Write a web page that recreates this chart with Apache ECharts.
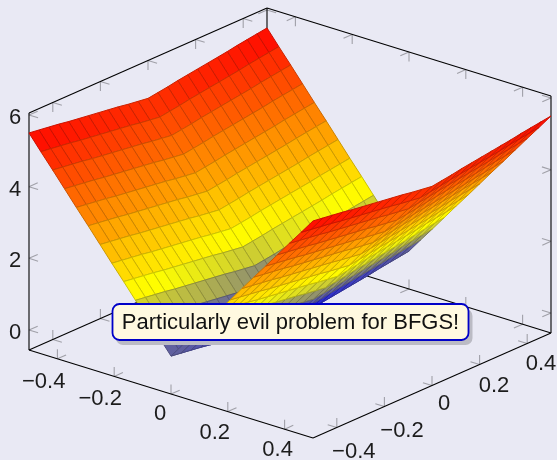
<!DOCTYPE html>
<html><head><meta charset="utf-8">
<style>html,body{margin:0;padding:0;background:#e9e9f4}#c{width:557px;height:460px}</style>
<script src="https://cdn.jsdelivr.net/npm/echarts@6/dist/echarts.min.js"></script>
</head><body><div id="c"></div>
<script>
const xSamples = [-0.5,-0.4583,-0.4167,-0.375,-0.3333,-0.2917,-0.25,-0.2083,-0.1667,-0.125,-0.0833,-0.0417,0,0.0417,0.0833,0.125,0.1667,0.2083,0.25,0.2917,0.3333,0.375,0.4167,0.4583,0.5];
const ySamples = [-0.5,-0.4583,-0.4167,-0.375,-0.3333,-0.2917,-0.25,-0.2083,-0.1667,-0.125,-0.0833,-0.0417,0,0.0417,0.0833,0.125,0.1667,0.2083,0.25,0.2917,0.3333,0.375,0.4167,0.4583,0.5];
const zRows = [
[5.50,5.46,5.42,5.38,5.33,5.29,5.25,5.21,5.17,5.13,5.08,5.04,5.00,5.04,5.08,5.13,5.17,5.21,5.25,5.29,5.33,5.38,5.42,5.46,5.50],
[5.08,5.04,5.00,4.96,4.91,4.87,4.83,4.79,4.75,4.71,4.66,4.62,4.58,4.62,4.66,4.71,4.75,4.79,4.83,4.87,4.91,4.96,5.00,5.04,5.08],
[4.67,4.63,4.59,4.55,4.50,4.46,4.42,4.38,4.34,4.30,4.25,4.21,4.17,4.21,4.25,4.30,4.34,4.38,4.42,4.46,4.50,4.55,4.59,4.63,4.67],
[4.25,4.21,4.17,4.13,4.08,4.04,4.00,3.96,3.92,3.88,3.83,3.79,3.75,3.79,3.83,3.88,3.92,3.96,4.00,4.04,4.08,4.13,4.17,4.21,4.25],
[3.83,3.79,3.75,3.71,3.66,3.62,3.58,3.54,3.50,3.46,3.41,3.37,3.33,3.37,3.41,3.46,3.50,3.54,3.58,3.62,3.66,3.71,3.75,3.79,3.83],
[3.42,3.38,3.34,3.30,3.25,3.21,3.17,3.13,3.09,3.05,3.00,2.96,2.92,2.96,3.00,3.05,3.09,3.13,3.17,3.21,3.25,3.30,3.34,3.38,3.42],
[3.00,2.96,2.92,2.88,2.83,2.79,2.75,2.71,2.67,2.63,2.58,2.54,2.50,2.54,2.58,2.63,2.67,2.71,2.75,2.79,2.83,2.88,2.92,2.96,3.00],
[2.58,2.54,2.50,2.46,2.41,2.37,2.33,2.29,2.25,2.21,2.16,2.12,2.08,2.12,2.16,2.21,2.25,2.29,2.33,2.37,2.41,2.46,2.50,2.54,2.58],
[2.17,2.13,2.09,2.05,2.00,1.96,1.92,1.88,1.84,1.80,1.75,1.71,1.67,1.71,1.75,1.80,1.84,1.88,1.92,1.96,2.00,2.05,2.09,2.13,2.17],
[1.75,1.71,1.67,1.63,1.58,1.54,1.50,1.46,1.42,1.38,1.33,1.29,1.25,1.29,1.33,1.38,1.42,1.46,1.50,1.54,1.58,1.63,1.67,1.71,1.75],
[1.33,1.29,1.25,1.21,1.16,1.12,1.08,1.04,1.00,0.96,0.91,0.87,0.83,0.87,0.91,0.96,1.00,1.04,1.08,1.12,1.16,1.21,1.25,1.29,1.33],
[0.92,0.88,0.84,0.80,0.75,0.71,0.67,0.63,0.59,0.55,0.50,0.46,0.42,0.46,0.50,0.55,0.59,0.63,0.67,0.71,0.75,0.80,0.84,0.88,0.92],
[0.50,0.46,0.42,0.38,0.33,0.29,0.25,0.21,0.17,0.13,0.08,0.04,0.00,0.04,0.08,0.13,0.17,0.21,0.25,0.29,0.33,0.38,0.42,0.46,0.50],
[0.92,0.88,0.84,0.80,0.75,0.71,0.67,0.63,0.59,0.55,0.50,0.46,0.42,0.46,0.50,0.55,0.59,0.63,0.67,0.71,0.75,0.80,0.84,0.88,0.92],
[1.33,1.29,1.25,1.21,1.16,1.12,1.08,1.04,1.00,0.96,0.91,0.87,0.83,0.87,0.91,0.96,1.00,1.04,1.08,1.12,1.16,1.21,1.25,1.29,1.33],
[1.75,1.71,1.67,1.63,1.58,1.54,1.50,1.46,1.42,1.38,1.33,1.29,1.25,1.29,1.33,1.38,1.42,1.46,1.50,1.54,1.58,1.63,1.67,1.71,1.75],
[2.17,2.13,2.09,2.05,2.00,1.96,1.92,1.88,1.84,1.80,1.75,1.71,1.67,1.71,1.75,1.80,1.84,1.88,1.92,1.96,2.00,2.05,2.09,2.13,2.17],
[2.58,2.54,2.50,2.46,2.41,2.37,2.33,2.29,2.25,2.21,2.16,2.12,2.08,2.12,2.16,2.21,2.25,2.29,2.33,2.37,2.41,2.46,2.50,2.54,2.58],
[3.00,2.96,2.92,2.88,2.83,2.79,2.75,2.71,2.67,2.63,2.58,2.54,2.50,2.54,2.58,2.63,2.67,2.71,2.75,2.79,2.83,2.88,2.92,2.96,3.00],
[3.42,3.38,3.34,3.30,3.25,3.21,3.17,3.13,3.09,3.05,3.00,2.96,2.92,2.96,3.00,3.05,3.09,3.13,3.17,3.21,3.25,3.30,3.34,3.38,3.42],
[3.83,3.79,3.75,3.71,3.66,3.62,3.58,3.54,3.50,3.46,3.41,3.37,3.33,3.37,3.41,3.46,3.50,3.54,3.58,3.62,3.66,3.71,3.75,3.79,3.83],
[4.25,4.21,4.17,4.13,4.08,4.04,4.00,3.96,3.92,3.88,3.83,3.79,3.75,3.79,3.83,3.88,3.92,3.96,4.00,4.04,4.08,4.13,4.17,4.21,4.25],
[4.67,4.63,4.59,4.55,4.50,4.46,4.42,4.38,4.34,4.30,4.25,4.21,4.17,4.21,4.25,4.30,4.34,4.38,4.42,4.46,4.50,4.55,4.59,4.63,4.67],
[5.08,5.04,5.00,4.96,4.91,4.87,4.83,4.79,4.75,4.71,4.66,4.62,4.58,4.62,4.66,4.71,4.75,4.79,4.83,4.87,4.91,4.96,5.00,5.04,5.08],
[5.50,5.46,5.42,5.38,5.33,5.29,5.25,5.21,5.17,5.13,5.08,5.04,5.00,5.04,5.08,5.13,5.17,5.21,5.25,5.29,5.33,5.38,5.42,5.46,5.50]
];
const xTicks = [-0.4,-0.2,0,0.2,0.4];
const yTicks = [-0.4,-0.2,0,0.2,0.4];
const zTicks = [0,2,4,6];
const xTickLabels = ['\u22120.4','\u22120.2','0','0.2','0.4'];
const yTickLabels = ['\u22120.4','\u22120.2','0','0.2','0.4'];
const zTickLabels = ['0','2','4','6'];
const noteText = 'Particularly evil problem for BFGS!';

// view of the 3D box (screen units of the hidden 2D axes)
const view = {ox:29, oy:350, xdx:284, xdy:88, ydx:238, ydy:-105, zs:35.83,
  xMin:-0.5, xMax:0.5, yMin:-0.5, yMax:0.5, zMin:-0.558, zMax:6.056};
function proj(x,y,z){
  const u=x-view.xMin, v=y-view.yMin, w=z-view.zMin;
  return [view.ox+u*view.xdx+v*view.ydx, view.oy+u*view.xdy+v*view.ydy-w*view.zs];
}
function unit(a,b){const l=Math.hypot(a,b);return [a/l,b/l];}
const DX=unit(view.xdx,view.xdy), DY=unit(view.ydx,view.ydy), DZ=[0,-1];
const TL=9.5;

// colormap "hot": blue, yellow, orange, red
const cmap=[[0,0,255],[255,255,0],[255,128,0],[255,0,0]];
const zLo=0, zHi=5.5;
function mapped(z){
  let t=Math.max(0,Math.min(1,(z-zLo)/(zHi-zLo)))*3;
  const i=Math.min(2,Math.floor(t)); t-=i;
  return cmap[i].map((c,k)=>c+(cmap[i+1][k]-c)*t);
}
function rgb(c,f){return 'rgb('+c.map(v=>Math.round(v*f)).join(',')+')';}

// cells sorted far to near
const cells=[];
for(let i=0;i<xSamples.length-1;i++){
  for(let j=ySamples.length-2;j>=0;j--){
    const m=(zRows[i][j]+zRows[i+1][j]+zRows[i][j+1]+zRows[i+1][j+1])/4;
    cells.push([i,j,m]);
  }
}

// box frame + ticks
const {xMin,xMax,yMin,yMax,zMin,zMax}=view;
const frame=[
  [[xMin,yMin,zMin],[xMax,yMin,zMin]],[[xMax,yMin,zMin],[xMax,yMax,zMin]],
  [[xMin,yMin,zMin],[xMin,yMax,zMin]],[[xMin,yMax,zMin],[xMax,yMax,zMin]],
  [[xMin,yMax,zMax],[xMax,yMax,zMax]],[[xMin,yMin,zMax],[xMin,yMax,zMax]],
  [[xMin,yMin,zMin],[xMin,yMin,zMax]],[[xMax,yMax,zMin],[xMax,yMax,zMax]],
  [[xMin,yMax,zMin],[xMin,yMax,zMax]]
];
const tickSegs=[];
function tk(p,d,s){tickSegs.push({p,d:[d[0]*s*TL,d[1]*s*TL]});}
xTicks.forEach(x=>{
  tk([x,yMin,zMin],DY,1);tk([x,yMin,zMin],DZ,1);
  tk([x,yMax,zMin],DY,-1);tk([x,yMax,zMin],DZ,1);
  tk([x,yMax,zMax],DY,-1);tk([x,yMax,zMax],DZ,-1);
});
yTicks.forEach(y=>{
  tk([xMax,y,zMin],DX,-1);tk([xMax,y,zMin],DZ,1);
  tk([xMin,y,zMin],DX,1);tk([xMin,y,zMin],DZ,1);
  tk([xMin,y,zMax],DX,1);tk([xMin,y,zMax],DZ,-1);
});
zTicks.forEach(z=>{
  tk([xMin,yMin,z],DX,1);tk([xMin,yMin,z],DY,1);
  tk([xMax,yMax,z],DX,-1);tk([xMax,yMax,z],DY,-1);
  tk([xMin,yMax,z],DX,1);tk([xMin,yMax,z],DY,-1);
});

const FONT='"Liberation Sans"';
const TC='#1c1c1c';
const xLabelOffsets=[[-13.7,22.7],[-14,22.7],[-11,19.7],[-13,21],[-7,21]];
const yLabelOffsets=[[17,24],[17.6,24.5],[12,18.5],[14.4,21.5],[13.8,20.5]];
const labels=[];
xTicks.forEach((x,i)=>{const p=proj(x,yMin,zMin);labels.push([p[0]+xLabelOffsets[i][0],p[1]+xLabelOffsets[i][1],xTickLabels[i]]);});
yTicks.forEach((y,i)=>{const p=proj(xMax,y,zMin);labels.push([p[0]+yLabelOffsets[i][0],p[1]+yLabelOffsets[i][1],yTickLabels[i]]);});
zTicks.forEach((z,i)=>{const p=proj(xMin,yMin,z);labels.push([15,p[1]+3,zTickLabels[i]]);});

const chart=echarts.init(document.getElementById('c'),null,{renderer:'canvas'});
chart.setOption({
  animation:false,
  backgroundColor:'#e9e9f4',
  grid:{left:0,right:0,top:0,bottom:0},
  xAxis:{type:'value',min:0,max:557,show:false},
  yAxis:{type:'value',min:0,max:460,inverse:true,show:false},
  series:[
    {type:'custom',coordinateSystem:'cartesian2d',silent:true,z:1,clip:false,
      data:tickSegs.map((t,i)=>[i,0]),
      encode:{x:0,y:1},
      renderItem(p,api){
        const t=tickSegs[api.value(0)];
        const a=proj(t.p[0],t.p[1],t.p[2]), A=api.coord(a), B=api.coord([a[0]+t.d[0],a[1]+t.d[1]]);
        return {type:'line',shape:{x1:A[0],y1:A[1],x2:B[0],y2:B[1]},style:{stroke:'#a0a0a8',lineWidth:1.1,fill:null}};
      }},
    {type:'custom',coordinateSystem:'cartesian2d',silent:true,z:2,clip:false,
      data:frame.map((t,i)=>[i,0]),
      encode:{x:0,y:1},
      renderItem(p,api){
        const f=frame[api.value(0)];
        const A=api.coord(proj(...f[0])), B=api.coord(proj(...f[1]));
        return {type:'line',shape:{x1:A[0],y1:A[1],x2:B[0],y2:B[1]},style:{stroke:'#000',lineWidth:1.1,fill:null}};
      }},
    {type:'custom',coordinateSystem:'cartesian2d',silent:true,z:3,clip:false,
      data:cells,
      dimensions:['i','j','z'],
      encode:{x:0,y:1},
      renderItem(p,api){
        const i=api.value(0),j=api.value(1),m=api.value(2);
        const pts=[[i,j],[i+1,j],[i+1,j+1],[i,j+1]].map(q=>api.coord(proj(xSamples[q[0]],ySamples[q[1]],zRows[q[0]][q[1]])));
        const c=mapped(m);
        return {type:'polygon',shape:{points:pts},style:{fill:rgb(c,1),stroke:rgb(c,0.8),lineWidth:1,lineJoin:'round'}};
      }},
    {type:'custom',coordinateSystem:'cartesian2d',silent:true,z:4,clip:false,
      data:labels.map((l,i)=>[i,0]),
      encode:{x:0,y:1},
      renderItem(p,api){
        const l=labels[api.value(0)];
        const A=api.coord([l[0],l[1]]);
        return {type:'text',x:A[0],y:A[1],style:{text:l[2],fill:TC,font:'22px '+FONT,align:'center',verticalAlign:'middle'}};
      }}
  ],
  graphic:{elements:[
    {type:'rect',z:100,silent:true,shape:{x:116,y:309,width:356.5,height:36,r:7},style:{fill:'#bbbbc4'}},
    {type:'rect',z:101,silent:true,shape:{x:112.5,y:304,width:356,height:36,r:7},style:{fill:'#fff9e0',stroke:'#0000c8',lineWidth:1.8}},
    {type:'text',z:102,silent:true,x:290.5,y:323,style:{text:noteText,fill:'#111',font:'22px '+FONT,align:'center',verticalAlign:'middle'}}
  ]}
});
</script></body></html>
